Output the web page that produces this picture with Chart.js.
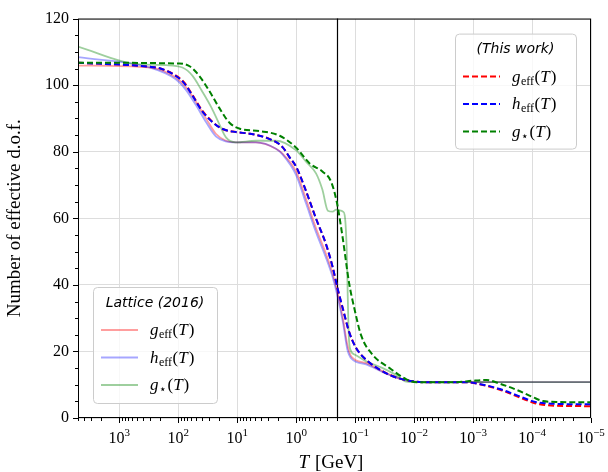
<!DOCTYPE html>
<html lang="en">
<head>
<meta charset="UTF-8">
<title>Effective degrees of freedom</title>
<script src="https://cdn.jsdelivr.net/npm/chart.js"></script>
<style>
  html, body { margin: 0; padding: 0; background: #fff; }
  #wrap { width: 608px; height: 472px; }
</style>
</head>
<body>
<div id="wrap"><canvas id="dof" width="608" height="472"></canvas></div>
<script>
// axis range (GeV) and the vertical marker
const X_MIN = 1e-5;
const X_MAX = 5000;
const T_MARK = 0.2;

// "This work": g_eff and h_eff share one temperature grid
const T_WORK_EFF = [5000, 300, 200, 120, 80, 57, 40, 27, 18, 10.5, 6, 2.8, 1.7, 1.3, 1, 0.68, 0.46, 0.31, 0.24, 0.195, 0.16, 0.126, 0.095, 0.065, 0.034, 0.018, 0.01, 0.0063, 0.0013, 0.00068, 0.00035, 0.00018, 0.000095, 0.000074, 0.00004, 0.00001];
const G_EFF_WORK = [106.75, 105.5, 105.0, 103.3, 100.9, 97.0, 92.6, 89.2, 86.9, 85.9, 85.4, 83.8, 81.4, 78.4, 75.5, 68.2, 59.9, 52.1, 45.3, 38.4, 32.6, 25.8, 20.9, 17.5, 14.0, 11.9, 11.0, 10.75, 10.75, 9.9, 8.5, 6.5, 4.6, 4.1, 3.7, 3.55];
const H_EFF_WORK = [106.75, 105.5, 105.0, 103.2, 100.7, 96.8, 92.4, 89.1, 86.9, 85.9, 85.4, 83.8, 81.4, 78.4, 75.5, 68.2, 59.9, 52.1, 45.3, 38.4, 32.6, 25.8, 20.9, 17.5, 14.0, 11.9, 11.0, 10.75, 10.75, 10.0, 8.7, 6.8, 5.0, 4.6, 4.25, 4.1];

const T_WORK_STAR = [5000, 95, 63, 44, 30, 20, 13.5, 9, 4.2, 1.9, 1, 0.59, 0.355, 0.257, 0.204, 0.162, 0.126, 0.102, 0.079, 0.05, 0.026, 0.0135, 0.0091, 0.002, 0.001, 0.00059, 0.00035, 0.00018, 0.000095, 0.000065, 0.000034, 0.00001];
const G_STAR_WORK = [106.75, 106.5, 105.6, 102.8, 98.4, 93.1, 88.7, 86.9, 86.2, 84.8, 81.2, 76.5, 74.0, 71.1, 64.8, 54.0, 40.4, 32.6, 24.8, 18.9, 15.0, 11.6, 10.75, 10.75, 11.2, 11.4, 10.3, 8.4, 6.2, 5.1, 4.8, 4.7];

// Lattice (2016)
const T_LAT_EFF = [5000, 300, 110, 74, 50, 34, 23, 15.5, 10.5, 4.8, 2.2, 1.7, 1, 0.68, 0.46, 0.31, 0.24, 0.195, 0.16, 0.135, 0.115, 0.065, 0.034, 0.018, 0.01, 0.007, 0.00001];
const G_EFF_LAT = [105.9, 105.3, 102.3, 99.4, 95.0, 90.1, 85.4, 83.3, 82.8, 82.8, 80.9, 79.4, 74.0, 65.8, 57.0, 49.2, 43.3, 37.0, 29.6, 21.9, 18.4, 16.5, 14.0, 11.9, 10.9, 10.75, 10.75];
const H_EFF_LAT = [108.4, 105.3, 101.8, 98.6, 94.0, 89.0, 84.6, 83.1, 82.8, 82.8, 80.9, 79.2, 73.0, 64.5, 55.8, 48.0, 42.3, 36.0, 28.5, 20.5, 17.8, 16.1, 13.8, 11.9, 10.9, 10.75, 10.75];

const T_LAT_STAR = [5000, 500, 160, 85, 57, 40, 27, 20, 15.5, 10.5, 4.8, 2.2, 1, 0.68, 0.46, 0.36, 0.29, 0.24, 0.21, 0.185, 0.16, 0.15, 0.138, 0.134, 0.128, 0.12, 0.1, 0.065, 0.034, 0.021, 0.0135, 0.01, 0.00001];
const G_STAR_LAT = [111.6, 106.3, 106.0, 105.3, 102.8, 98.4, 93.1, 88.2, 84.3, 82.8, 83.3, 83.3, 80.4, 77.0, 73.5, 68.7, 62.3, 62.0, 62.6, 62.4, 62.0, 60.9, 49.2, 38.4, 24.8, 20.5, 19.0, 17.0, 15.0, 13.1, 10.9, 10.75, 10.75];

// legend texts: symbol, subscript
const LEGEND_WORK_TITLE = '(This work)';
const LEGEND_LAT_TITLE = 'Lattice (2016)';
const LEGEND_SYMS = [['g', 'eff'], ['h', 'eff'], ['g', '\u22C6']];

const SERIF = '"Liberation Serif", "DejaVu Serif", serif';

function pts(ts, vs) {
  return ts.map((t, i) => ({ x: t, y: vs[i] }));
}

function isDecade(v) {
  const l = Math.log10(v);
  return Math.abs(l - Math.round(l)) < 1e-6;
}

const datasets = [
  { label: 'g_eff (This work)', data: pts(T_WORK_EFF, G_EFF_WORK), borderColor: '#ff0000', borderDash: [6, 3], borderWidth: 2, order: 2 },
  { label: 'h_eff (This work)', data: pts(T_WORK_EFF, H_EFF_WORK), borderColor: '#0000ff', borderDash: [6, 3], borderWidth: 2, order: 1 },
  { label: 'g_* (This work)', data: pts(T_WORK_STAR, G_STAR_WORK), borderColor: '#008000', borderDash: [6, 3], borderWidth: 2, order: 0 },
  { label: 'g_eff (Lattice)', data: pts(T_LAT_EFF, G_EFF_LAT), borderColor: 'rgba(255,0,0,0.38)', borderDash: [], borderWidth: 1.8, order: 5 },
  { label: 'h_eff (Lattice)', data: pts(T_LAT_EFF, H_EFF_LAT), borderColor: 'rgba(0,0,255,0.35)', borderDash: [], borderWidth: 1.8, order: 4 },
  { label: 'g_* (Lattice)', data: pts(T_LAT_STAR, G_STAR_LAT), borderColor: 'rgba(0,128,0,0.38)', borderDash: [], borderWidth: 1.8, order: 3 }
].map(d => Object.assign(d, { pointRadius: 0, fill: false, cubicInterpolationMode: 'monotone' }));

// g_eff(T) style label, drawn piece by piece
function drawSym(ctx, x, y, base, sub) {
  ctx.textAlign = 'left';
  ctx.textBaseline = 'alphabetic';
  ctx.font = 'italic 17px ' + SERIF;
  ctx.fillText(base, x, y);
  x += ctx.measureText(base).width + 0.5;
  ctx.font = '12px ' + SERIF;
  ctx.fillText(sub, x, y + 3);
  x += ctx.measureText(sub).width + 0.5;
  ctx.font = '17px ' + SERIF;
  ctx.fillText('(', x, y);
  x += ctx.measureText('(').width;
  ctx.font = 'italic 17px ' + SERIF;
  ctx.fillText('T', x, y);
  x += ctx.measureText('T').width + 1;
  ctx.font = '17px ' + SERIF;
  ctx.fillText(')', x, y);
}

function drawLegend(ctx, bx, by, bw, bh, title, sets) {
  ctx.save();
  ctx.beginPath();
  ctx.roundRect(bx + 0.5, by + 0.5, bw, bh, 4);
  ctx.fillStyle = 'rgba(255,255,255,0.8)';
  ctx.fill();
  ctx.strokeStyle = '#cccccc';
  ctx.lineWidth = 1;
  ctx.stroke();
  ctx.fillStyle = '#000';
  ctx.font = 'italic 14px "DejaVu Sans", sans-serif';
  ctx.textAlign = 'center';
  ctx.textBaseline = 'middle';
  ctx.fillText(title, bx + bw / 2, by + 16);
  sets.forEach((ds, i) => {
    const yy = by + 43 + i * 27.5;
    ctx.strokeStyle = ds.borderColor;
    ctx.lineWidth = 2;
    ctx.setLineDash(ds.borderDash);
    ctx.beginPath();
    ctx.moveTo(bx + 8, yy);
    ctx.lineTo(bx + 45, yy);
    ctx.stroke();
    ctx.setLineDash([]);
    ctx.fillStyle = '#000';
    drawSym(ctx, bx + 57, yy + 5, LEGEND_SYMS[i][0], LEGEND_SYMS[i][1]);
  });
  ctx.restore();
}

const decor = {
  id: 'decor',
  beforeDatasetsDraw(chart) {
    const { ctx, chartArea: a, scales: { x } } = chart;
    const px = Math.round(x.getPixelForValue(T_MARK)) + 0.5;
    ctx.save();
    ctx.strokeStyle = '#000';
    ctx.lineWidth = 1.2;
    ctx.beginPath();
    ctx.moveTo(px, a.top);
    ctx.lineTo(px, a.bottom);
    ctx.stroke();
    ctx.restore();
  },
  afterDraw(chart) {
    const { ctx, chartArea: a, scales: { x, y } } = chart;
    ctx.save();
    ctx.strokeStyle = '#000';
    ctx.lineWidth = 1;
    ctx.strokeRect(a.left + 0.5, a.top + 0.5, a.right - a.left - 1, a.bottom - a.top - 1);

    // tick marks
    ctx.beginPath();
    x.ticks.forEach(t => {
      const px = Math.round(x.getPixelForValue(t.value)) + 0.5;
      const len = isDecade(t.value) ? 5 : 3;
      ctx.moveTo(px, a.bottom);
      ctx.lineTo(px, a.bottom + len);
    });
    y.ticks.forEach(t => {
      const py = Math.round(y.getPixelForValue(t.value)) + 0.5;
      const len = t.value % 20 === 0 ? 5 : 3;
      ctx.moveTo(a.left, py);
      ctx.lineTo(a.left - len, py);
    });
    ctx.stroke();

    // x tick labels 10^n
    ctx.fillStyle = '#000';
    ctx.textAlign = 'left';
    ctx.textBaseline = 'alphabetic';
    x.ticks.forEach(t => {
      if (!isDecade(t.value)) return;
      const e = Math.round(Math.log10(t.value));
      const exp = e < 0 ? '\u2212' + (-e) : String(e);
      ctx.font = '16px ' + SERIF;
      const wb = ctx.measureText('10').width;
      ctx.font = '11px ' + SERIF;
      const we = ctx.measureText(exp).width;
      const px = x.getPixelForValue(t.value);
      const x0 = px - (wb + we) / 2;
      ctx.font = '16px ' + SERIF;
      ctx.fillText('10', x0, a.bottom + 25);
      ctx.font = '11px ' + SERIF;
      ctx.fillText(exp, x0 + wb, a.bottom + 18);
    });

    // x title: T [GeV]
    ctx.font = 'italic 19px ' + SERIF;
    const wT = ctx.measureText('T').width;
    ctx.font = '19px ' + SERIF;
    const wRest = ctx.measureText(' [GeV]').width;
    const cx = (a.left + a.right) / 2 - 4;
    ctx.font = 'italic 19px ' + SERIF;
    ctx.fillText('T', cx - (wT + wRest) / 2, a.bottom + 50);
    ctx.font = '19px ' + SERIF;
    ctx.fillText(' [GeV]', cx - (wT + wRest) / 2 + wT + 1, a.bottom + 50);
    ctx.restore();

    const ds = chart.data.datasets;
    drawLegend(ctx, a.right - 136, a.top + 15, 121, 115, LEGEND_WORK_TITLE, ds.slice(0, 3));
    drawLegend(ctx, a.left + 15, a.bottom - 131, 124, 116, LEGEND_LAT_TITLE, ds.slice(3, 6));
  }
};

new Chart(document.getElementById('dof'), {
  type: 'line',
  data: { datasets },
  options: {
    responsive: false,
    animation: false,
    layout: { padding: { top: 8, right: 17, left: 0, bottom: 0 } },
    plugins: { legend: { display: false }, tooltip: { enabled: false } },
    scales: {
      x: {
        type: 'logarithmic',
        min: X_MIN,
        max: X_MAX,
        reverse: true,
        afterBuildTicks(scale) {
          const ticks = [];
          for (let e = -5; e <= 3; e++) {
            for (let m = 1; m <= 9; m++) {
              const v = m * Math.pow(10, e);
              if (v >= X_MIN && v <= X_MAX) ticks.push({ value: v });
            }
          }
          scale.ticks = ticks;
        },
        afterFit(scale) { scale.height = 54; },
        grid: {
          drawTicks: false,
          lineWidth: 1,
          color: c => (c.tick && isDecade(c.tick.value)) ? '#dddddd' : 'rgba(0,0,0,0)'
        },
        border: { display: false },
        ticks: { autoSkip: false, maxRotation: 0, callback: () => '' }
      },
      y: {
        min: 0,
        max: 120,
        afterFit(scale) { scale.width = 78; },
        grid: {
          drawTicks: false,
          lineWidth: 1,
          color: c => (c.tick && c.tick.value % 20 === 0) ? '#dddddd' : 'rgba(0,0,0,0)'
        },
        border: { display: false },
        ticks: {
          stepSize: 5,
          autoSkip: false,
          padding: 9,
          color: '#000',
          font: { family: SERIF, size: 16 },
          callback: v => (v % 20 === 0 ? String(v) : '')
        },
        title: {
          display: true,
          text: 'Number of effective d.o.f.',
          color: '#000',
          font: { family: SERIF, size: 19 },
          padding: { top: 4, bottom: 2 }
        }
      }
    }
  },
  plugins: [decor]
});
</script>
</body>
</html>
